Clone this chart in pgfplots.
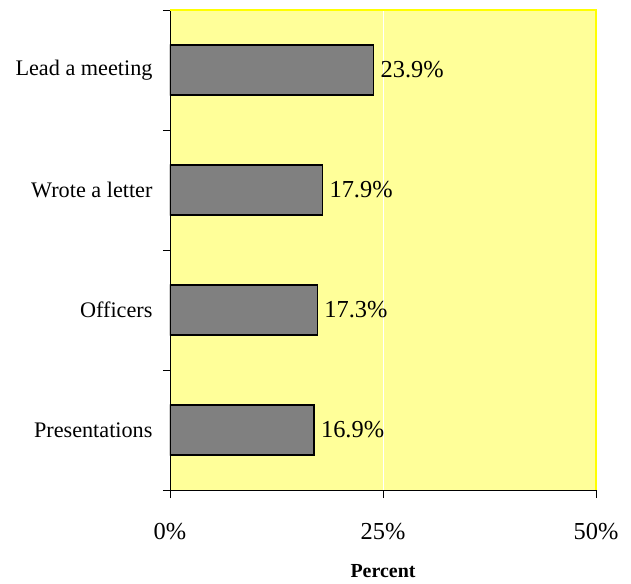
\documentclass[border=0pt]{standalone}
\usepackage{fontspec}
\setmainfont{Liberation Serif}
\usepackage{pgfplots}
\pgfplotsset{compat=1.18}
\definecolor{paleyellow}{RGB}{255,255,153}
\definecolor{edgeyellow}{RGB}{255,255,0}
\definecolor{bargray}{RGB}{128,128,128}

\begin{document}
\begin{tikzpicture}
\useasboundingbox (-170bp,-94bp) rectangle (461bp,490bp);
\begin{axis}[
    scale only axis,
    width=426bp, height=480bp,
    xbar, bar width=50bp,
    xmin=0, xmax=50,
    ymin=-0.5, ymax=3.5,
    axis x line*=bottom, axis y line*=left,
    axis line style={black, line width=0.8bp, -},
    axis background/.style={fill=paleyellow},
    /pgf/number format/assume math mode=true,
    xtick={0,25,50},
    xticklabels={0\%,25\%,50\%},
    xticklabel style={font=\fontsize{24.5}{26}\selectfont, yshift=-22bp},
    xmajorgrids, major grid style={draw=white, line width=0.6bp},
    ytick={0,1,2,3},
    yticklabels={Presentations,Officers,Wrote a letter,Lead a meeting},
    yticklabel style={font=\fontsize{22.3}{24}\selectfont, anchor=east, xshift=-6bp},
    ytick style={draw=none},
    minor ytick={-0.5,0.5,1.5,2.5,3.5},
    minor y tick style={draw=black, line width=0.6bp},
    x tick style={draw=black, line width=0.6bp},
    tick align=outside,
    major tick length=8bp, minor tick length=7bp,
    xlabel={\textbf{Percent}},
    every axis x label/.style={at={(axis description cs:0.5,0)}, yshift=-81bp, anchor=center, font=\fontsize{20}{22}\selectfont},
    nodes near coords={\pgfmathprintnumber[fixed,fixed zerofill,precision=1]{\pgfplotspointmeta}\%},
    every node near coord/.append style={anchor=west, xshift=3bp, font=\fontsize{24.5}{26}\selectfont, black},
]
\addplot[fill=bargray, draw=black, line width=1.5bp] coordinates {
    (16.9,0) (17.3,1) (17.9,2) (23.9,3)
};
\end{axis}
\draw[edgeyellow, line width=2bp] (0,480bp) -- (426bp,480bp) -- (426bp,0);
\end{tikzpicture}
\end{document}
